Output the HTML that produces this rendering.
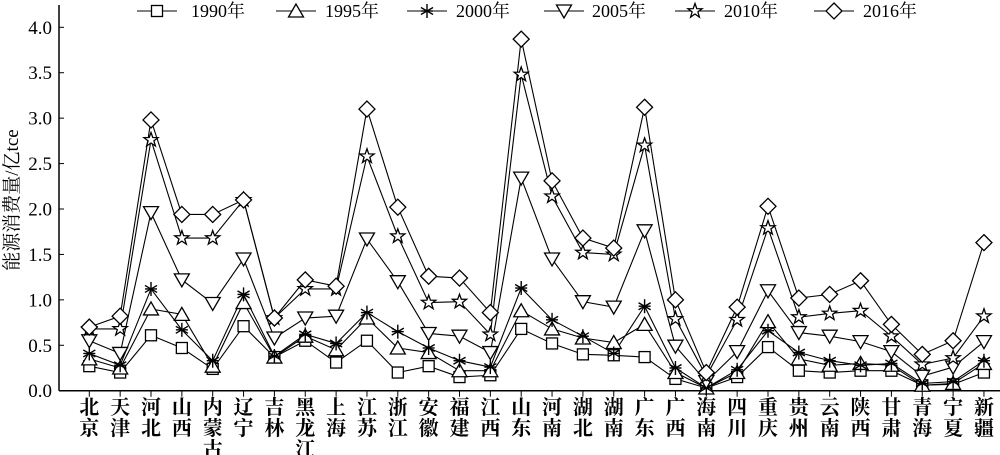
<!DOCTYPE html>
<html><head><meta charset="utf-8"><style>
html,body{margin:0;padding:0;background:#fff;}
svg{display:block;}
text{font-family:"Liberation Serif","Noto Serif CJK SC",serif;fill:#000;}
</style></head><body>
<svg id="c" width="1000" height="455" xmlns="http://www.w3.org/2000/svg"></svg>
<script>
const s=document.getElementById('c');
let h='';
const X0=59,Y0=390.7,K=90.85,x0=89.3,dx=30.85;
const X=i=>x0+i*dx, Y=v=>Y0-v*K;
h+=`<line x1="${X0}" y1="5" x2="${X0}" y2="${Y0}" stroke="#000" stroke-width="1.5"/>`;
h+=`<line x1="${X0}" y1="${Y0}" x2="1000" y2="${Y0}" stroke="#000" stroke-width="1.5"/>`;
for(let i=0;i<=8;i++){const v=i*0.5,y=Y(v);
 h+=`<line x1="${X0}" y1="${y}" x2="${X0+5}" y2="${y}" stroke="#000"/>`;
 h+=`<text x="${X0-7}" y="${y+6.5}" font-size="19" text-anchor="end">${v.toFixed(1)}</text>`;}
const prov=['北京','天津','河北','山西','内蒙古','辽宁','吉林','黑龙江','上海','江苏','浙江','安徽','福建','江西','山东','河南','湖北','湖南','广东','广西','海南','四川','重庆','贵州','云南','陕西','甘肃','青海','宁夏','新疆'];
prov.forEach((p,i)=>{const x=X(i);
 h+=`<line x1="${x}" y1="${Y0}" x2="${x}" y2="${Y0+6}" stroke="#000"/>`;
 [...p].forEach((c,j)=>h+=`<text x="${x}" y="${414+j*21}" font-size="20" font-weight="bold" text-anchor="middle">${c}</text>`);});
h+=`<text transform="translate(18,200) rotate(-90)" font-size="19" text-anchor="middle">能源消费量/亿tce</text>`;
const D=[
[0.27,0.2,0.61,0.47,0.24,0.71,0.37,0.55,0.31,0.55,0.2,0.27,0.15,0.17,0.68,0.52,0.4,0.39,0.37,0.13,0.03,0.15,0.48,0.22,0.2,0.22,0.22,0.06,0.07,0.2],
[0.35,0.25,0.9,0.84,0.27,0.97,0.37,0.6,0.45,0.8,0.47,0.42,0.22,0.22,0.88,0.68,0.58,0.53,0.73,0.2,0.03,0.2,0.76,0.35,0.28,0.3,0.28,0.06,0.08,0.3],
[0.41,0.28,1.12,0.67,0.33,1.06,0.38,0.62,0.52,0.86,0.65,0.47,0.33,0.26,1.13,0.78,0.6,0.41,0.93,0.25,0.03,0.23,0.66,0.42,0.33,0.28,0.3,0.08,0.1,0.33],
[0.55,0.41,1.96,1.22,0.96,1.45,0.58,0.8,0.82,1.67,1.2,0.63,0.6,0.42,2.34,1.45,0.98,0.92,1.76,0.49,0.1,0.43,1.1,0.64,0.6,0.54,0.43,0.16,0.26,0.54],
[0.68,0.68,2.76,1.68,1.68,2.1,0.8,1.12,1.12,2.58,1.7,0.97,0.98,0.62,3.48,2.14,1.52,1.5,2.7,0.79,0.16,0.78,1.79,0.81,0.85,0.88,0.6,0.29,0.36,0.82],
[0.7,0.82,2.98,1.94,1.94,2.1,0.8,1.22,1.15,3.1,2.02,1.26,1.24,0.86,3.87,2.31,1.68,1.57,3.12,1.0,0.2,0.92,2.03,1.02,1.06,1.21,0.73,0.4,0.55,1.63]];
function mk(t,x,y){const st='fill="#fff" stroke="#000" stroke-width="1.3"';
 if(t==0)return `<rect x="${x-5.5}" y="${y-5.5}" width="11" height="11" ${st}/>`;
 if(t==1)return `<polygon points="${x},${y-7} ${x-7.5},${y+6} ${x+7.5},${y+6}" ${st}/>`;
 if(t==2){let r='';for(let a=0;a<3;a++){const an=a*Math.PI/3+Math.PI/2;const c=Math.cos(an)*7,d=Math.sin(an)*7;r+=`<line x1="${x-c}" y1="${y-d}" x2="${x+c}" y2="${y+d}" stroke="#000" stroke-width="1.4"/>`;}
  r+=`<line x1="${x-6}" y1="${y}" x2="${x+6}" y2="${y}" stroke="#000" stroke-width="1.4"/>`;return r;}
 if(t==3)return `<polygon points="${x},${y+7} ${x-7.5},${y-6} ${x+7.5},${y-6}" ${st}/>`;
 if(t==4){let p=[];for(let k=0;k<10;k++){const r=k%2?3:7.5,an=-Math.PI/2+k*Math.PI/5;p.push((x+r*Math.cos(an)).toFixed(1)+','+(y+r*Math.sin(an)).toFixed(1));}return `<polygon points="${p.join(' ')}" ${st}/>`;}
 return `<polygon points="${x},${y-8} ${x+8},${y} ${x},${y+8} ${x-8},${y}" ${st}/>`;}
D.forEach((d,t)=>{h+=`<polyline fill="none" stroke="#000" stroke-width="1.1" points="${d.map((v,i)=>X(i)+','+Y(v)).join(' ')}"/>`;});
D.forEach((d,t)=>{d.forEach((v,i)=>h+=mk(t,X(i),Y(v)));});
const lm=[157,296,427,564,695,834],lt=[191,325,456,592,724,863],yrs=['1990年','1995年','2000年','2005年','2010年','2016年'];
lm.forEach((m,t)=>{h+=`<line x1="${m-20}" y1="11" x2="${m+20}" y2="11" stroke="#000" stroke-width="1.1"/>`+mk(t,m,11)+`<text x="${lt[t]}" y="17" font-size="18">${yrs[t]}</text>`;});
s.innerHTML=h;
</script>
</body></html>
